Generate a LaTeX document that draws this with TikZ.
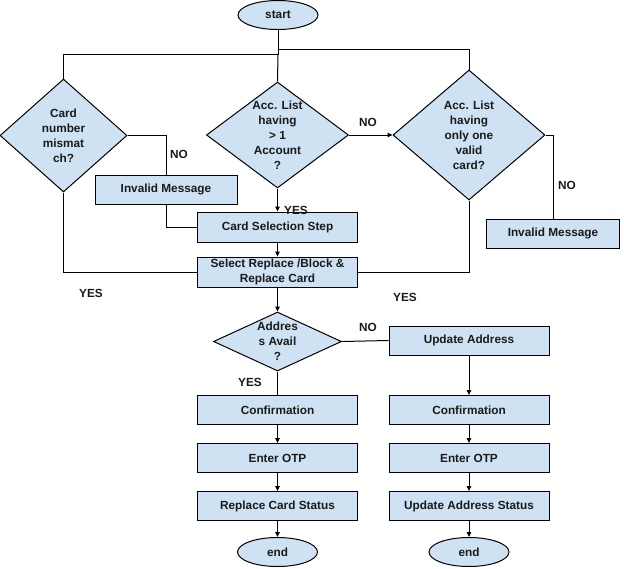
\documentclass[tikz,border=0pt]{standalone}
\usepackage{fontspec}
\setmainfont{Liberation Sans}
\definecolor{FlowFill}{HTML}{CFE2F3}
\definecolor{FlowLine}{HTML}{000000}
\definecolor{FlowText}{HTML}{1A1A1A}
\usetikzlibrary{arrows.meta,positioning,shapes.geometric}
\tikzset{
  stepbox/.style={draw=FlowLine, fill=FlowFill, align=center, minimum width=160pt, minimum height=29pt, inner sep=0pt, line width=1pt, font=\fontsize{11.8}{15}\selectfont\bfseries, text=FlowText},
  msgbox/.style={stepbox, minimum width=142pt},
  decision/.style={diamond, draw=FlowLine, fill=FlowFill, align=center, inner sep=-4pt, line width=1pt, font=\fontsize{11.8}{15}\selectfont\bfseries, text=FlowText},
  terminal/.style={ellipse, draw=FlowLine, fill=FlowFill, minimum width=80pt, minimum height=29pt, inner sep=0pt, line width=1pt, font=\fontsize{11.8}{15}\selectfont\bfseries, text=FlowText},
  arrow/.style={-{Triangle[length=5pt,width=4.5pt]}, line width=1pt, FlowLine},
  link/.style={line width=1pt, FlowLine},
  answer/.style={font=\fontsize{11.8}{15}\selectfont\bfseries, text=FlowText, inner sep=0pt}
}

\begin{document}
\begin{tikzpicture}[x=1pt, y=-1pt, node distance=18pt]
    \useasboundingbox (0,0) rectangle (624,568);

    % top part
    \node[terminal] (start) at (278,15) {start};
    \coordinate (jleft) at (278,54);
    \coordinate (jright) at (278,49);
    \node[decision, aspect=1.12, minimum width=127pt, minimum height=113pt] (cardchk) at (63.5,135.5) {Card\\number\\mismat\\ch?};
    \node[decision, aspect=1.34, minimum width=142pt, minimum height=106pt] (acclist) at (277.5,135) {Acc. List\\having\\> 1\\Account\\?};
    \node[decision, aspect=1.17, minimum width=152pt, minimum height=130pt] (onecard) at (469,135) {Acc. List\\having\\only one\\valid\\card?};
    \node[msgbox] (inv1) at (166,189.5) {Invalid Message};
    \node[msgbox, minimum width=133pt] (inv2) at (553,233.5) {Invalid Message};
    \node[stepbox, minimum height=30pt] (cardsel) at (277.5,227) {Card Selection Step};
    \node[stepbox, minimum height=30pt] (selrep) at (277.5,272) {Select Replace /Block \&\\Replace Card};

    % address check
    \node[decision, aspect=2.17, minimum width=128pt, minimum height=59pt] (addr) at (277.5,341.5) {Addres\\s Avail\\?};
    \node[stepbox] (upd) at (469,340.5) {Update Address};

    % two columns
    \node[stepbox] (conf1) at (277.5,410) {Confirmation};
    \node[stepbox, below=of conf1] (otp1) {Enter OTP};
    \node[stepbox, below=of otp1] (stat1) {Replace Card Status};
    \node[terminal, below=16pt of stat1] (end1) {end};
    \node[stepbox] (conf2) at (469,410) {Confirmation};
    \node[stepbox, below=of conf2] (otp2) {Enter OTP};
    \node[stepbox, below=of otp2] (stat2) {Update Address Status};
    \node[terminal, below=16pt of stat2] (end2) {end};

    \draw[link] (start.south) -- (jleft) -| (cardchk.north);
    \draw[link] (jleft) -- (acclist.north);
    \draw[link] (jright) -| (onecard.north);
    \draw[link] (cardchk.east) -| (inv1.north);
    \draw[link] (inv1.south) |- (cardsel.west);
    \draw[link] (cardchk.south) |- (selrep.west);
    \draw[arrow] (acclist.south) -- (cardsel.north);
    \draw[arrow] (acclist.east) -- (onecard.west);
    \draw[link] (onecard.east) -| (inv2.north);
    \draw[link] (onecard.south) |- (selrep.east);
    \draw[arrow] (cardsel) -- (selrep);
    \draw[arrow] (selrep) -- (addr);
    \draw[link] (addr.east) -- (upd.west);
    \draw[link] (addr.south) -- (conf1.north);
    \draw[arrow] (upd) -- (conf2);
    \draw[arrow] (conf1) -- (otp1);
    \draw[arrow] (otp1) -- (stat1);
    \draw[arrow] (stat1) -- (end1);
    \draw[arrow] (conf2) -- (otp2);
    \draw[arrow] (otp2) -- (stat2);
    \draw[arrow] (stat2) -- (end2);

    \node[answer] (noinv1) at (179,154) {NO};
    \node[answer] (yessel) at (296,210) {YES};
    \node[answer] (noone) at (368,122) {NO};
    \node[answer] (noinv2) at (567,185) {NO};
    \node[answer] (yesleft) at (91,293) {YES};
    \node[answer] (yesright) at (405,297) {YES};
    \node[answer] (noaddr) at (368,327) {NO};
    \node[answer] (yesaddr) at (250,382) {YES};
  \end{tikzpicture}
\end{document}
